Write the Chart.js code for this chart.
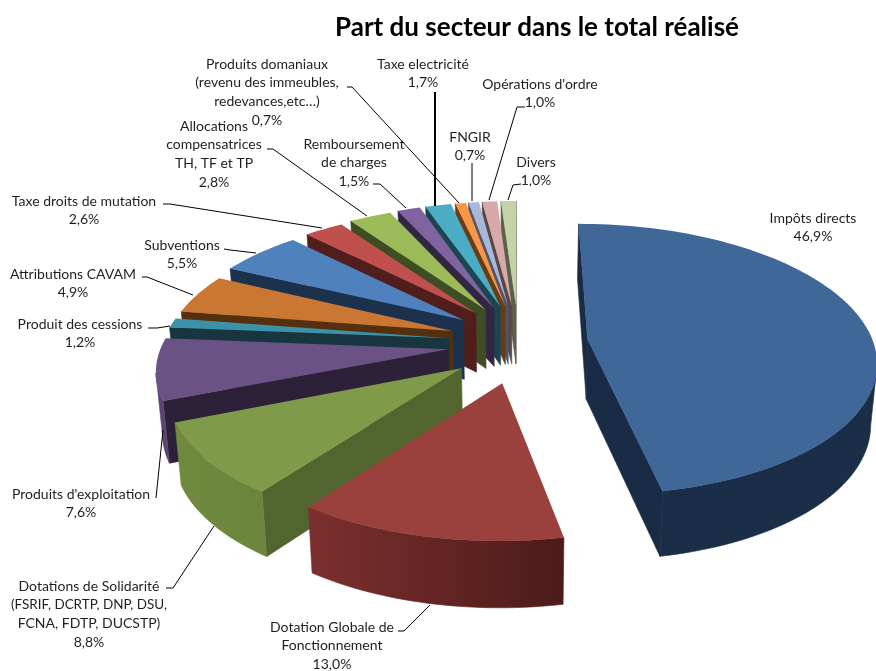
<!DOCTYPE html>
<html><head><meta charset="utf-8">
<style>html,body{margin:0;padding:0;background:#fff}canvas{display:block}</style>
<script src="https://cdn.jsdelivr.net/npm/chart.js@4/dist/chart.umd.js"></script>
</head><body><canvas id="c" width="876" height="671"></canvas>
<script>
const titleText = "Part du secteur dans le total réalisé";
const categories = [
 "Impôts directs",
 "Dotation Globale de\nFonctionnement",
 "Dotations de Solidarité\n(FSRIF, DCRTP, DNP, DSU,\nFCNA, FDTP, DUCSTP)",
 "Produits d'exploitation",
 "Produit des cessions",
 "Attributions CAVAM",
 "Subventions",
 "Taxe droits de mutation",
 "Allocations\ncompensatrices\nTH, TF et TP",
 "Remboursement\nde charges",
 "Taxe electricité",
 "Produits domaniaux\n(revenu des immeubles,\nredevances,etc…)",
 "FNGIR",
 "Opérations d'ordre",
 "Divers"
];
const values = [46.9,13.0,8.8,7.6,1.2,4.9,5.5,2.6,2.8,1.5,1.7,0.7,0.7,1.0,1.0];
const topColors  = ["#3F6899","#9A403D","#7F9A48","#6A5284","#3D91A8","#C97732","#4F81BD","#C0504D","#9BBB59","#8064A2","#4BACC6","#F79646","#A9B8D9","#D7A9A9","#C4D3A6"];
const sideColors = ["#1A2C45","#4D1A18","#52652E","#2D2139","#17363F","#55300F","#1C324C","#4F1E1D","#3F4D24","#322742","#1B4651","#6A3C16","#4E5668","#5A4646","#5A6049"];
const rimStart   = ["#1B2E47","#7B302E","#6F8A3F","#5A4570","#17363F","#55300F","#1C324C","#4F1E1D","#3F4D24","#322742","#1B4651","#6A3C16","#4E5668","#5A4646","#5A6049"];
const rimEnd     = ["#1B2E47","#4C1B19","#6C853D","#5A4570","#17363F","#55300F","#1C324C","#4F1E1D","#3F4D24","#322742","#1B4651","#6A3C16","#4E5668","#5A4646","#5A6049"];
// small per-slice radius corrections of the perspective
const radiusU = [1,0.97,0.985,1,1,1,1.01,1,1,1,1,1,1,1,1];
const radiusV = [1.05,0.975,1,1,1,1,1,1,1.01,1.015,1.015,1.015,1.015,1.015,1.015];

// label placement: centre x, first-line y, and the leader polyline
const labelLayout = [
 {x:813,y:218,leader:null},
 {x:332,y:627,leader:[[398,631],[404,631],[430,605]]},
 {x:89, y:586,maxWidth:156,leader:[[166,588],[173,588],[214,526]]},
 {x:81, y:494,leader:[[156,498],[163,430]]},
 {x:80, y:324,leader:[[148,328],[157,328],[170,326]]},
 {x:73, y:274,leader:[[142,277],[147,277],[193,295]]},
 {x:182,y:245,leader:[[224,249],[230,250],[256,253]]},
 {x:84, y:201,leader:[[163,204],[170,204],[322,228]]},
 {x:214,y:126,leader:[[267,149],[273,149],[367,216]]},
 {x:354,y:144,leader:[[373,184],[380,184],[406,208]]},
 {x:423,y:64, leader:[[435,92],[435,206]],width:2},
 {x:267,y:64, leader:[[347,87],[352,87],[459,203]]},
 {x:470,y:137,leader:[[472,163],[472,201]]},
 {x:540,y:84, leader:[[525,107],[517,107],[489,200]]},
 {x:536,y:162,leader:[[521,184],[513,185],[508,200]]}
];

// camera of the exploded, tilted pie
const view = {shiftX:-19, shiftY:-20, fx:0.929, fy:0.413, k:0.14, explodeU:0.245, explodeV:0.31, depth:60, depthK:0.08, shrink:0.982};

class Arc3D extends Chart.ArcElement {
  static id = 'arc3d';
  draw(ctx){
    const i = this.$sliceIndex;
    const R = this.outerRadius;
    const cx = this.x + view.shiftX, cy = this.y + view.shiftY;
    const a0 = this.startAngle + Math.PI/2, a1 = this.endAngle + Math.PI/2, am = (a0+a1)/2;
    const eu = view.explodeU*Math.sin(am), ev = view.explodeV*Math.cos(am);
    const top = (u,v)=>{const w=1+view.k*v; return {x:cx+R*view.fx*u/w, y:cy-R*view.fy*v/w, v};};
    const down = p=>({x:cx+(p.x-cx)*view.shrink, y:p.y+view.depth/(1+view.depthK*p.v)});
    const apex = top(eu,ev);
    const n = Math.max(4,Math.ceil((a1-a0)/0.03));
    const rim = [];
    for(let j=0;j<=n;j++){const a=a0+(a1-a0)*j/n; rim.push(top(radiusU[i]*Math.sin(a)+eu,radiusV[i]*Math.cos(a)+ev));}
    const quad=(pts,col)=>{ctx.beginPath();pts.forEach((p,q)=>q?ctx.lineTo(p.x,p.y):ctx.moveTo(p.x,p.y));ctx.closePath();ctx.fillStyle=col;ctx.strokeStyle=col;ctx.lineWidth=0.6;ctx.fill();ctx.stroke();};
    const last = rim[rim.length-1];
    if(rim[0].x<apex.x) quad([apex,rim[0],down(rim[0]),down(apex)],sideColors[i]);
    if(apex.x<last.x) quad([last,apex,down(apex),down(last)],sideColors[i]);
    // the part of the rim that faces the viewer, as one band with a shading gradient
    let j0=-1,j1=-1;
    for(let j=0;j<n;j++){ if(rim[j+1].x<rim[j].x){ if(j0<0)j0=j; j1=j+1; } }
    if(j0>=0){
      const band=rim.slice(j0,j1+1);
      const pts=band.concat(band.slice().reverse().map(down));
      const g=ctx.createLinearGradient(rim[n].x,0,rim[0].x,0);
      g.addColorStop(0,rimStart[i]);g.addColorStop(1,rimEnd[i]);
      quad(pts,g);
    }
    ctx.beginPath();ctx.moveTo(apex.x,apex.y);rim.forEach(p=>ctx.lineTo(p.x,p.y));ctx.closePath();
    ctx.fillStyle=this.options.backgroundColor;ctx.fill();
  }
}
class Pie3D extends Chart.PieController {
  static id = 'pie3d';
  static defaults = {dataElementType:'arc3d'};
  draw(){
    const ctx=this.chart.ctx, els=this._cachedMeta.data;
    els.forEach((e,i)=>{e.$sliceIndex=i;});
    const depthOf=e=>Math.cos((e.startAngle+e.endAngle)/2+Math.PI/2);
    [...els].sort((a,b)=>depthOf(b)-depthOf(a)).forEach(e=>e.draw(ctx));
  }
}
Chart.register(Arc3D,Pie3D);

const fmt=v=>v.toFixed(1).replace('.',',')+'%';
const labelPlugin={id:'sliceLabels',afterDatasetsDraw(chart){
  const ctx=chart.ctx;ctx.save();
  ctx.strokeStyle='#000';
  labelLayout.forEach(l=>{ if(!l.leader)return;
    ctx.beginPath();ctx.lineWidth=l.width||1;
    l.leader.forEach((p,i)=>i?ctx.lineTo(p[0],p[1]):ctx.moveTo(p[0],p[1]));ctx.stroke();});
  ctx.font='14px Lato';ctx.fillStyle='#1f1f1f';ctx.textAlign='center';ctx.textBaseline='middle';
  categories.forEach((c,i)=>{
    const lines=c.split('\n').concat(fmt(values[i]));
    lines.forEach((t,j)=>ctx.fillText(t,labelLayout[i].x,labelLayout[i].y+j*18.9,labelLayout[i].maxWidth||400));
  });
  ctx.restore();
}};

new Chart(document.getElementById('c'),{
  type:'pie3d',
  data:{labels:categories,datasets:[{data:values,backgroundColor:topColors,borderWidth:0,clip:false}]},
  options:{
    responsive:false,animation:false,events:[],
    layout:{padding:{left:198,right:0,top:0,bottom:0}},
    plugins:{
      legend:{display:false},tooltip:{enabled:false},
      title:{display:true,text:titleText,fullSize:false,color:'#000',font:{family:'Lato',size:26,weight:'bold'},padding:{top:12,bottom:12}}
    }
  },
  plugins:[labelPlugin]
});
</script></body></html>
